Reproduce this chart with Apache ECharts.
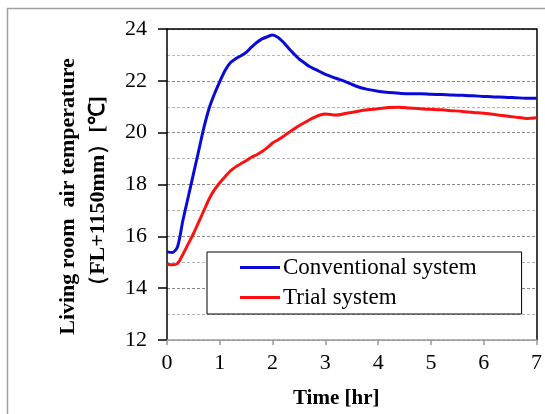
<!DOCTYPE html>
<html>
<head>
<meta charset="utf-8">
<script src="https://cdn.jsdelivr.net/npm/echarts@6/dist/echarts.min.js"></script>
<style>
  html, body { margin: 0; padding: 0; background: #fff; }
  #chart { width: 545px; height: 414px; }
</style>
</head>
<body>
<div id="chart"></div>
<script>
// time [hr]
var hours = [0, 0.1, 0.2, 0.3, 0.4, 0.5, 0.6, 0.7, 0.8, 0.9, 1.0, 1.1, 1.2, 1.3, 1.4, 1.5, 1.6, 1.7, 1.8, 1.9,
    2.0, 2.1, 2.2, 2.3, 2.4, 2.5, 2.6, 2.7, 2.8, 2.9, 3.0, 3.2, 3.4, 3.6, 3.8, 4.0, 4.2, 4.4, 4.6, 4.8,
    5.0, 5.2, 5.4, 5.6, 5.8, 6.0, 6.2, 6.4, 6.6, 6.8, 7.0];

// living room air temperature [C]
var conventional = [15.4, 15.38, 15.6, 16.6, 17.5, 18.4, 19.3, 20.2, 20.95, 21.5, 21.97, 22.4, 22.7, 22.85, 22.97, 23.1, 23.3, 23.48, 23.62, 23.7,
    23.77, 23.68, 23.5, 23.27, 23.05, 22.85, 22.7, 22.55, 22.45, 22.35, 22.25, 22.1, 21.95, 21.78, 21.67, 21.6, 21.55, 21.52, 21.5, 21.5,
    21.48, 21.47, 21.45, 21.44, 21.42, 21.4, 21.38, 21.37, 21.35, 21.33, 21.33];
var trial = [14.92, 14.9, 14.95, 15.3, 15.7, 16.1, 16.55, 17.0, 17.45, 17.8, 18.07, 18.3, 18.52, 18.68, 18.8, 18.92, 19.05, 19.15, 19.27, 19.42,
    19.6, 19.72, 19.85, 20.0, 20.13, 20.27, 20.38, 20.5, 20.6, 20.68, 20.72, 20.68, 20.75, 20.82, 20.88, 20.92, 20.97, 20.98, 20.95, 20.92,
    20.9, 20.88, 20.85, 20.82, 20.78, 20.75, 20.7, 20.65, 20.6, 20.55, 20.58];

var seriesNames = ['Conventional system', 'Trial system'];
var serif = 'Liberation Serif';

function pairs(ys) {
    var out = [];
    for (var i = 0; i < hours.length; i++) {
        out.push([hours[i], ys[i]]);
    }
    return out;
}

var option = {
    animation: false,
    backgroundColor: '#fff',
    graphic: [{
        type: 'rect',
        shape: {x: 7.5, y: 8.5, width: 700, height: 600},
        style: {fill: 'none', stroke: '#a0a0a0', lineWidth: 1.5},
        silent: true
    }],
    grid: {
        left: 167,
        top: 29,
        right: 8,
        bottom: 73
    },
    legend: {
        orient: 'vertical',
        left: 207,
        top: 252,
        padding: [4, 45, 5, 33],
        itemGap: 7,
        itemWidth: 40,
        itemHeight: 3,
        icon: 'rect',
        backgroundColor: '#fff',
        borderColor: '#000',
        borderWidth: 1,
        borderRadius: 0,
        textStyle: {fontFamily: serif, fontSize: 23, color: '#000', lineHeight: 23, padding: [0, 0, 0, -2]},
        data: seriesNames
    },
    xAxis: [{
        type: 'value',
        min: 0,
        max: 7,
        interval: 1,
        name: 'Time [hr]',
        nameLocation: 'middle',
        nameGap: 48,
        nameTextStyle: {fontFamily: serif, fontSize: 21, fontWeight: 'bold', color: '#000', padding: [0, 31, 0, 0]},
        axisLine: {show: true, lineStyle: {color: '#999', width: 1.5}},
        axisTick: {show: true, inside: false, length: 5, lineStyle: {color: '#999', width: 1.5}},
        axisLabel: {fontFamily: serif, fontSize: 22, color: '#000', margin: 12},
        splitLine: {show: false}
    }, {
        type: 'value',
        position: 'top',
        min: 0,
        max: 7,
        axisLine: {show: true, onZero: false, lineStyle: {color: '#000', width: 1.5}},
        axisTick: {show: false},
        axisLabel: {show: false},
        splitLine: {show: false}
    }],
    yAxis: [{
        type: 'value',
        min: 12,
        max: 24,
        interval: 2,
        name: 'Living room  air temperature\n（FL+1150mm）[℃]',
        nameLocation: 'middle',
        nameRotate: 90,
        nameGap: 54,
        nameTextStyle: {fontFamily: serif, fontSize: 22, fontWeight: 'bold', color: '#000', lineHeight: 30, padding: [0, 24, 0, 0]},
        axisLine: {show: true, lineStyle: {color: '#000', width: 1.5}},
        axisTick: {show: true, inside: false, length: 9, lineStyle: {color: '#000', width: 1.5}},
        axisLabel: {fontFamily: serif, fontSize: 22, color: '#000', margin: 20},
        splitLine: {show: true, lineStyle: {color: '#888', type: [3, 2], width: 1}},
        minorTick: {show: false, splitNumber: 2},
        minorSplitLine: {show: true, lineStyle: {color: '#b4b4b4', type: [3, 2], width: 1}}
    }, {
        type: 'value',
        position: 'right',
        min: 12,
        max: 24,
        axisLine: {show: true, onZero: false, lineStyle: {color: '#000', width: 1.5}},
        axisTick: {show: false},
        axisLabel: {show: false},
        splitLine: {show: false}
    }],
    series: [{
        name: seriesNames[0],
        type: 'line',
        symbol: 'none',
        smooth: 0.3,
        color: '#0a0ad8',
        lineStyle: {width: 3, color: '#0a0ad8'},
        data: pairs(conventional)
    }, {
        name: seriesNames[1],
        type: 'line',
        symbol: 'none',
        smooth: 0.3,
        color: '#ff1010',
        lineStyle: {width: 3, color: '#ff1010'},
        data: pairs(trial)
    }]
};

var chart = echarts.init(document.getElementById('chart'), null, {renderer: 'canvas'});
chart.setOption(option);
</script>
</body>
</html>
